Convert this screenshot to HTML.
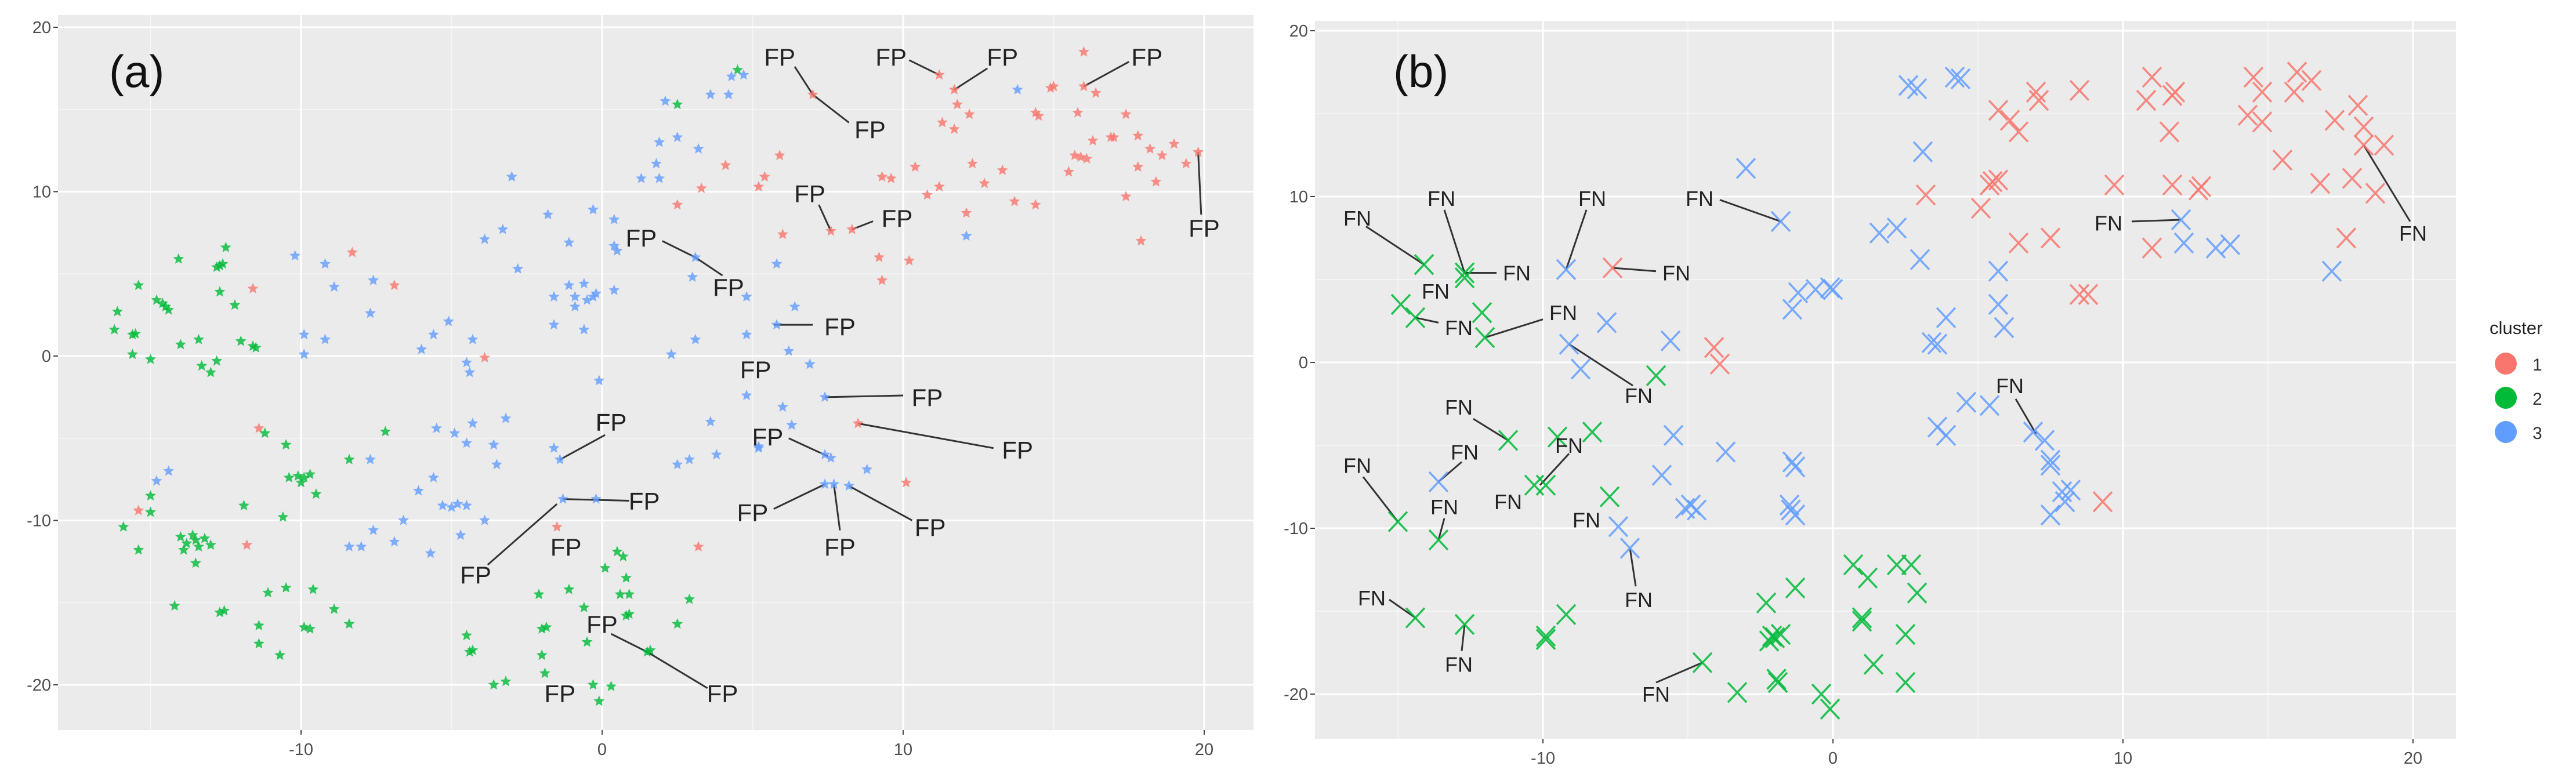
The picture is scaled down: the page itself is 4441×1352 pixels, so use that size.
<!DOCTYPE html>
<html><head><meta charset="utf-8">
<style>
html,body{margin:0;padding:0;background:#fff;}
svg{display:block;font-family:"Liberation Sans",sans-serif;}
</style></head>
<body>
<svg id="chart" width="4441" height="1352" viewBox="0 0 4441 1352" xmlns="http://www.w3.org/2000/svg">
<g id="pa"></g>
<g id="pb"></g>
<g id="legend">
<text x="4292" y="576" font-size="31" fill="#222">cluster</text>
<circle cx="4320" cy="627" r="19" fill="#F8766D"/>
<text x="4366" y="639" font-size="30" fill="#333">1</text>
<circle cx="4320" cy="686" r="19" fill="#00BA38"/>
<text x="4366" y="698" font-size="30" fill="#333">2</text>
<circle cx="4320" cy="745" r="19" fill="#619CFF"/>
<text x="4366" y="757" font-size="30" fill="#333">3</text>
</g>
</svg>
<script>
// ---------- Panel (a) data ----------
const aRed = [[-8.3,6.3],[-11.6,4.1],[-6.9,4.3],[-3.9,-0.1],[-11.4,-4.4],[-15.4,-9.4],[-11.8,-11.5],[-1.5,-10.4],[3.2,-11.6],[2.5,9.2],[3.3,10.2],[4.1,11.6],[5.2,10.3],[5.4,10.9],[5.9,12.2],[6.0,7.4],
[7.0,15.9],[11.2,17.1],[11.7,16.2],[11.8,15.3],[12.2,14.7],[11.3,14.2],[11.7,13.8],[10.4,11.5],[9.3,10.9],[9.6,10.8],[11.2,10.3],[10.8,9.8],[12.3,11.7],[12.7,10.5],[13.3,11.3],[13.7,9.4],[14.4,9.2],[12.1,8.7],[7.6,7.6],[8.3,7.7],[9.2,6.0],[10.2,5.8],[9.3,4.6],
[14.9,16.3],[15.0,16.4],[16.0,18.5],[16.0,16.4],[16.4,16.0],[14.4,14.8],[14.5,14.6],[15.8,14.8],[17.4,14.7],[16.3,13.1],[16.9,13.3],[17.0,13.3],[17.8,13.4],[18.2,12.6],[18.6,12.2],[19.0,12.9],[19.8,12.4],[19.4,11.7],[15.7,12.2],[15.9,12.1],[16.1,12.0],[15.5,11.2],[17.8,11.5],[18.4,10.6],[17.4,9.7],[17.9,7.0],[8.5,-4.1],[10.1,-7.7]];
const aGreen = [[-14.07,5.9],[-12.8,5.4],[-12.7,5.5],[-12.6,5.6],[-12.5,6.6],[-15.4,4.3],[-16.1,2.7],[-16.2,1.6],[-15.6,1.3],[-15.5,1.35],[-15.6,0.1],[-15.0,-0.2],[-14.8,3.4],[-14.6,3.2],[-14.5,3.0],[-14.4,2.8],[-14.0,0.7],[-13.4,1.0],[-13.3,-0.6],[-13.0,-1.0],[-12.8,-0.3],[-12.7,3.9],[-12.2,3.1],[-12.0,0.9],[-11.6,0.6],[-11.5,0.5],
[-11.2,-4.7],[-10.5,-5.4],[-10.4,-7.4],[-10.1,-7.3],[-9.9,-7.4],[-9.7,-7.2],[-10.0,-7.7],[-9.5,-8.4],[-8.4,-6.3],[-7.2,-4.6],[-11.9,-9.1],[-10.6,-9.8],[-15.0,-8.5],[-15.0,-9.5],[-15.9,-10.4],[-15.4,-11.8],
[-14.0,-11.0],[-13.8,-11.4],[-13.6,-10.9],[-13.4,-11.6],[-13.2,-11.1],[-13.0,-11.5],[-13.9,-11.8],[-13.5,-11.2],[-13.5,-12.6],[-14.2,-15.2],[-12.7,-15.6],[-12.55,-15.5],[-11.1,-14.4],[-10.5,-14.1],[-9.6,-14.2],[-11.4,-16.4],[-11.4,-17.5],[-10.7,-18.2],[-9.9,-16.5],[-9.7,-16.6],[-8.9,-15.4],[-8.4,-16.3],
[-4.5,-17.0],[-4.4,-18.0],[-4.3,-17.9],[-3.6,-20.0],[-3.2,-19.8],[-2.1,-14.5],[-2.0,-16.6],[-1.85,-16.5],[-2.0,-18.2],[-1.9,-19.3],[-1.1,-14.2],[-0.6,-15.3],[-0.5,-17.4],[-0.3,-20.0],[-0.1,-21.0],[0.3,-20.1],[0.1,-12.9],[0.5,-11.9],[0.7,-12.2],[0.8,-13.5],[0.6,-14.5],[0.9,-14.5],[0.9,-15.7],[0.8,-15.8],[1.5,-18.0],[1.6,-17.9],[2.5,-16.3],[2.9,-14.8],[2.5,15.3],[4.5,17.4]];
const aBlue = [[-10.2,6.1],[-9.2,5.6],[-8.9,4.2],[-7.6,4.6],[-7.7,2.6],[-9.9,1.3],[-9.9,0.1],[-9.2,1.0],[-3.9,7.1],[-3.3,7.7],[-2.8,5.3],[-3.0,10.9],[-5.1,2.1],[-5.6,1.3],[-6.0,0.4],[-4.3,1.0],[-4.5,-0.4],[-4.4,-1.0],
[-1.8,8.6],[-1.1,6.9],[-0.3,8.9],[0.4,8.3],[0.4,6.7],[0.5,6.4],[-1.6,3.6],[-1.1,4.3],[-0.9,3.6],[-0.6,4.4],[-0.5,3.4],[-0.3,3.6],[-0.2,3.8],[-0.9,3.0],[0.4,4.0],[-1.6,1.9],[-0.6,1.6],[-0.1,-1.5],
[1.3,10.8],[1.8,11.7],[1.9,10.8],[1.9,13.0],[2.5,13.3],[2.1,15.5],[3.2,12.6],[3.6,15.9],[4.2,15.9],[4.3,17.0],[4.7,17.1],[3.1,6.0],[3.0,4.8],[4.8,3.6],[3.1,1.0],[2.3,0.1],[4.8,1.3],[4.8,-2.4],[5.8,5.6],[6.4,3.0],[5.8,1.9],[6.2,0.3],[6.9,-0.5],[6.0,-3.1],[6.3,-4.2],
[-14.4,-7.0],[-14.8,-7.6],[-7.7,-6.3],[-5.5,-4.4],[-4.9,-4.7],[-4.3,-4.1],[-3.2,-3.8],[-4.5,-5.3],[-3.6,-5.4],[-3.5,-6.6],[-5.6,-7.4],[-6.1,-8.2],[-5.3,-9.1],[-5.0,-9.2],[-4.8,-9.0],[-4.5,-9.1],[-3.9,-10.0],[-4.7,-10.9],[-5.7,-12.0],[-6.6,-10.0],[-6.9,-11.3],[-7.6,-10.6],[-8.4,-11.6],[-8.0,-11.6],
[-1.6,-5.6],[-1.4,-6.3],[-1.3,-8.7],[-0.2,-8.7],[2.5,-6.6],[2.9,-6.3],[3.6,-4.0],[3.8,-6.0],[5.2,-5.6],[13.8,16.2],[12.1,7.3],[7.4,-2.5],[5.2,-5.5],[7.4,-6.0],[7.6,-6.2],[8.8,-6.9],[7.4,-7.8],[7.7,-7.8],[8.2,-7.9]];
// labels: [labelX,labelY,segX1,segY1,segX2,segY2] (segX1 null = no segment)
const aLabels = [[1.3,7.2,2.0,7.0,3.1,6.0],[4.2,4.2,4.0,4.9,3.1,6.0],[0.3,-4.0,0.1,-4.8,-1.4,-6.3],[1.4,-8.8,0.9,-8.8,-1.3,-8.7],[-4.2,-13.3,-3.8,-12.7,-1.5,-9.0],[-1.2,-11.6,null,0,0,0],[0.0,-16.3,0.3,-16.9,1.5,-18.0],[4.0,-20.5,3.5,-20.2,1.5,-18.0],[-1.4,-20.5,null,0,0,0],[5.1,-0.8,null,0,0,0],[5.5,-4.9,6.2,-5.0,7.5,-6.1],[5.0,-9.5,5.7,-9.3,7.4,-7.8],
[5.9,18.2,6.4,17.6,7.0,15.9],[8.9,13.8,8.2,14.2,7.0,15.9],[9.6,18.2,10.2,18.0,11.2,17.1],[13.3,18.2,12.8,17.5,11.7,16.2],[18.1,18.2,17.5,17.9,16.0,16.4],[20.0,7.8,19.9,8.6,19.8,12.4],[6.9,9.9,7.2,9.2,7.6,7.6],[9.8,8.4,9.0,8.2,8.3,7.7],[7.9,1.8,7.0,1.9,5.7,1.9],[10.8,-2.5,10.0,-2.4,7.4,-2.5],[13.8,-5.7,13.0,-5.6,8.5,-4.1],[10.9,-10.4,10.3,-10.0,8.2,-7.9],[7.9,-11.6,7.9,-10.6,7.7,-7.8]];
// ---------- Panel (b) data ----------
const bRed = [[11.0,17.2],[10.8,15.8],[11.7,16.1],[11.8,16.3],[11.6,13.9],[14.5,17.2],[14.8,16.3],[14.3,14.9],[14.8,14.5],[16.0,17.5],[15.9,16.3],[16.5,17.0],[15.5,12.2],[16.8,10.8],[17.3,14.6],[18.1,15.5],[18.3,14.2],[18.3,13.1],[19.0,13.1],[17.9,11.1],[18.7,10.2],[17.7,7.5],[11.0,6.9],[9.7,10.7],[11.7,10.7],[12.6,10.4],[12.7,10.6],[8.5,16.4],[7.1,15.8],[7.0,16.3],[5.7,15.2],[6.1,14.6],[6.4,13.9],[5.5,10.9],[5.7,11.0],[5.4,10.7],[5.1,9.3],[3.2,10.1],[6.4,7.2],[7.5,7.5],[8.5,4.1],[8.8,4.1],[-7.6,5.7],[-4.1,0.9],[-3.9,-0.1],[9.3,-8.4]];
const bGreen = [[-14.1,5.9],[-12.7,5.4],[-12.7,5.1],[-14.9,3.5],[-14.4,2.7],[-12.1,3.0],[-12.0,1.5],[-6.1,-0.8],[-11.2,-4.7],[-9.5,-4.5],[-8.3,-4.2],[-10.3,-7.4],[-9.9,-7.4],[-7.7,-8.1],[-15.0,-9.6],[-13.6,-10.7],[-14.4,-15.4],[-12.7,-15.8],[-9.9,-16.5],[-9.9,-16.7],[-9.2,-15.2],[-4.5,-18.1],[-3.3,-19.9],[-2.3,-14.5],[-2.1,-16.5],[-2.0,-16.6],[-2.2,-16.8],[-1.8,-16.4],[-1.9,-19.3],[-1.95,-19.1],[-1.3,-13.6],[-0.4,-20.0],[-0.1,-20.9],[0.7,-12.2],[1.2,-13.0],[1.0,-15.4],[1.0,-15.6],[1.4,-18.2],[2.2,-12.2],[2.7,-12.2],[2.9,-13.9],[2.5,-16.4],[2.5,-19.3]];
const bBlue = [[2.6,16.7],[2.9,16.5],[4.2,17.2],[4.4,17.1],[3.1,12.7],[-3.0,11.7],[-1.8,8.5],[12.0,8.6],[12.1,7.2],[13.2,6.9],[13.7,7.1],[17.2,5.5],[1.6,7.8],[2.2,8.1],[3.0,6.2],[5.7,5.5],[5.7,3.5],[5.9,2.1],[3.9,2.7],[3.4,1.2],[3.6,1.1],[-1.4,3.2],[-1.2,4.2],[-0.6,4.4],[-0.1,4.5],[0.0,4.4],
[-9.2,5.6],[-7.8,2.4],[-5.6,1.3],[-9.1,1.1],[-8.7,-0.4],[4.6,-2.4],[5.4,-2.6],[3.6,-3.9],[3.9,-4.4],[6.9,-4.2],[7.3,-4.7],[7.5,-5.9],[7.5,-6.2],[7.9,-7.8],[8.2,-7.7],[8.0,-8.4],[7.5,-9.2],
[-5.5,-4.4],[-3.7,-5.4],[-1.4,-6.0],[-1.3,-6.3],[-5.9,-6.8],[-5.1,-8.8],[-4.7,-8.9],[-4.9,-8.6],[-1.5,-8.6],[-1.45,-8.9],[-1.3,-9.2],[-7.4,-9.9],[-7.0,-11.2],[-13.6,-7.2]];
const bLabels = [[-16.4,8.7,-16.1,8.2,-14.1,5.9],[-13.5,9.9,-13.4,9.2,-12.7,5.4],[-10.9,5.4,-11.6,5.4,-12.7,5.4],[-13.7,4.3,null,0,0,0],[-12.9,2.1,-13.6,2.4,-14.4,2.7],[-9.3,3.0,-10.0,2.6,-12.0,1.5],[-8.3,9.9,-8.5,9.2,-9.2,5.6],[-5.4,5.4,-6.1,5.5,-7.6,5.7],[-4.6,9.9,-3.9,9.8,-1.8,8.5],[-6.7,-2.0,-6.9,-1.4,-9.1,1.1],[-12.9,-2.7,-12.4,-3.4,-11.2,-4.7],[-9.1,-5.0,-9.1,-5.5,-10.1,-7.4],[-12.7,-5.4,-12.8,-6.0,-13.6,-7.2],[-16.4,-6.2,-16.2,-6.9,-15.0,-9.6],[-13.4,-8.7,-13.4,-9.4,-13.6,-10.7],[-11.2,-8.4,null,0,0,0],[-8.5,-9.5,null,0,0,0],[-6.7,-14.3,-6.8,-13.5,-7.0,-11.2],[-15.9,-14.2,-15.3,-14.3,-14.4,-15.4],[-12.9,-18.2,-12.8,-17.4,-12.7,-15.8],[-6.1,-20.0,-6.1,-19.3,-4.5,-18.1],[6.1,-1.4,6.3,-2.2,7.0,-4.3],[9.5,8.4,10.3,8.5,12.0,8.6],[20.0,7.8,19.9,8.5,18.3,13.1]];
const xTicks = [-10,0,10,20];
const yTicks = [-20,-10,0,10,20];

const NS = 'http://www.w3.org/2000/svg';
function mk(tag, attrs, parent){const e=document.createElementNS(NS,tag);for(const k in attrs)e.setAttribute(k,attrs[k]);parent.appendChild(e);return e;}
const COL={r:'#F8766D',g:'#00BA38',b:'#619CFF'};

function panel(g, P){
  const sx=v=>P.x0+v*P.kx, sy=v=>P.y0-v*P.ky;
  const bg=mk('rect',{x:P.L,y:P.T,width:P.R-P.L,height:P.B-P.T,fill:'#EBEBEB'},g);
  
  
  // minor grid
  for(let v=-15;v<=20;v+=10){
    const px=sx(v); if(px>P.L&&px<P.R){const l=mk('line',{x1:px,x2:px,y1:P.T,y2:P.B,stroke:'#F7F7F7','stroke-width':1.5},g);}
  }
  for(let v=-15;v<=20;v+=10){
    const py=sy(v); if(py>P.T&&py<P.B){const l=mk('line',{x1:P.L,x2:P.R,y1:py,y2:py,stroke:'#F7F7F7','stroke-width':1.5},g);}
  }
  xTicks.forEach(v=>{const px=sx(v);
    const l=mk('line',{x1:px,x2:px,y1:P.T,y2:P.B,stroke:'#fff','stroke-width':3},g);
    
    
    const t=mk('line',{x1:px,x2:px,y1:P.B,y2:P.B+8,stroke:'#444','stroke-width':2},g);
    
    
    const tx=mk('text',{x:px,y:P.B+43,'font-size':P.tf,fill:'#4D4D4D','text-anchor':'middle'},g);tx.textContent=v;
    
    
  });
  yTicks.forEach(v=>{const py=sy(v);
    const l=mk('line',{x1:P.L,x2:P.R,y1:py,y2:py,stroke:'#fff','stroke-width':3},g);
    
    
    const t=mk('line',{x1:P.L-8,x2:P.L,y1:py,y2:py,stroke:'#444','stroke-width':2},g);
    
    
    const tx=mk('text',{x:P.L-12,y:py+10,'font-size':P.tf,fill:'#4D4D4D','text-anchor':'end'},g);tx.textContent=v;
    
    
  });
  // segments
  P.labels.forEach(d=>{
    if(d[2]!==null){const s=mk('line',{x1:sx(d[2]),y1:sy(d[3]),x2:sx(d[4]),y2:sy(d[5]),stroke:'#333','stroke-width':3},g);
      
      }
  });
  // points
  [['r',P.red],['g',P.green],['b',P.blue]].forEach(([c,arr])=>{
    arr.forEach(p=>{const cx=sx(p[0]),cy=sy(p[1]);let m;
      if(P.star){
        let pts='';for(let i=0;i<10;i++){const a=-Math.PI/2+i*Math.PI/5,r=i%2?4.5:10;pts+=(cx+r*Math.cos(a)).toFixed(1)+','+(cy+r*Math.sin(a)).toFixed(1)+' ';}
        m=mk('polygon',{points:pts,fill:COL[c],'fill-opacity':0.8},g);
      } else {
        const w=16,h=17;
        m=mk('path',{d:`M${cx-w},${cy-h}L${cx+w},${cy+h}M${cx+w},${cy-h}L${cx-w},${cy+h}`,stroke:COL[c],'stroke-width':3.5,'stroke-opacity':0.85,fill:'none'},g);
      }
      
      
    });
  });
  // labels
  P.labels.forEach(d=>{const t=mk('text',{x:sx(d[0]),y:sy(d[1])+P.lf*0.36,'font-size':P.lf,fill:'#222','text-anchor':'middle'},g);t.textContent=P.lt;
    
    });
  const tl=mk('text',{x:P.tagX,y:150,'font-size':78,fill:'#111'},g);tl.textContent=P.tag;
  
  
}
panel(document.getElementById('pa'),{L:100,R:2161,T:26,B:1259,x0:1038,kx:51.9,y0:614,ky:28.35,tf:29,lf:42,lt:'FP',star:true,red:aRed,green:aGreen,blue:aBlue,labels:aLabels,tag:'(a)',tagX:188});
panel(document.getElementById('pb'),{L:2267,R:4234,T:36,B:1274,x0:3160,kx:50,y0:625,ky:28.6,tf:29,lf:36,lt:'FN',star:false,red:bRed,green:bGreen,blue:bBlue,labels:bLabels,tag:'(b)',tagX:2402});
</script>
</body></html>
